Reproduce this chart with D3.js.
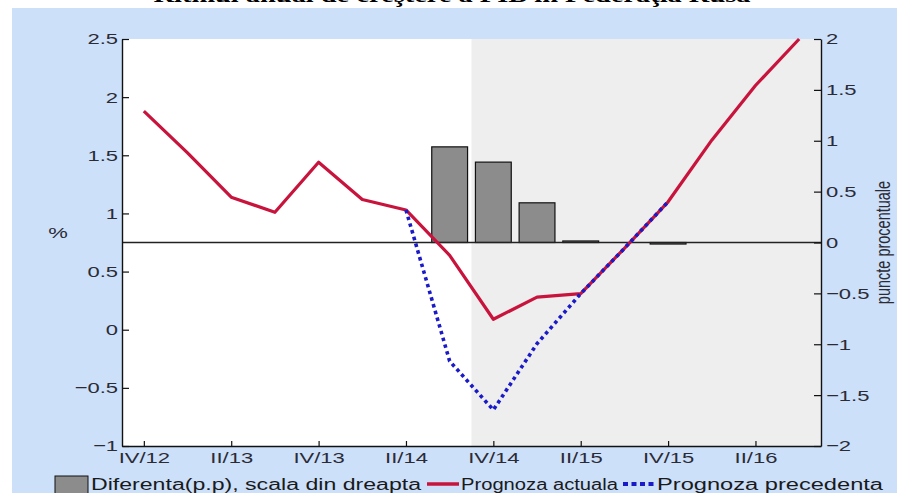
<!DOCTYPE html>
<html>
<head>
<meta charset="utf-8">
<script src="https://cdn.jsdelivr.net/npm/d3@7"></script>
<style>
  html, body { margin: 0; padding: 0; background: #fff; }
  svg { display: block; }
  text { font-family: "Liberation Sans", Arial, sans-serif; }
</style>
</head>
<body>
<svg width="897" height="493"></svg>
<script>
// quarters on the x axis
const quarters = ['IV/12', 'I/13', 'II/13', 'III/13', 'IV/13', 'I/14', 'II/14', 'III/14',
  'IV/14', 'I/15', 'II/15', 'III/15', 'IV/15', 'I/16', 'II/16', 'III/16']
const tickQuarters = ['IV/12', 'II/13', 'IV/13', 'II/14', 'IV/14', 'II/15', 'IV/15', 'II/16']
const forecastStart = 'IV/14'

// annual GDP growth, % (left scale)
const actual = [1.88, 1.52, 1.14, 1.01, 1.44, 1.12, 1.03, 0.64, 0.09, 0.28, 0.31, 0.70, 1.10, 1.63, 2.10, 2.50]
const previous = [null, null, null, null, null, null, 1.03, -0.27, -0.69, -0.12, 0.31, 0.70, 1.10, null, null, null]
// difference, p.p. (right scale)
const diff = [null, null, null, null, null, null, null, 0.94, 0.79, 0.39, 0.015, 0, -0.015, null, null, null]

const leftTicks = [-1, -0.5, 0, 0.5, 1, 1.5, 2, 2.5]
const rightTicks = [-2, -1.5, -1, -0.5, 0, 0.5, 1, 1.5, 2]

const title = 'Ritmul anual de creştere a PIB în Federaţia Rusă'
const legendLabels = ['Diferenta(p.p), scala din dreapta', 'Prognoza actuala', 'Prognoza precedenta']

const svg = d3.select('svg')
const stretchX = 1.42
const red = '#c8143c', blue = '#1a1ac8'

const pLeft = 122, pRight = 821, pTop = 39, pBottom = 446

// stretch texts horizontally like the (widened) original
const stretch = (sel, k = stretchX) => sel.each(function () {
  const w = this.getComputedTextLength()
  this.setAttribute('textLength', w * k)
  this.setAttribute('lengthAdjust', 'spacingAndGlyphs')
})

// backgrounds
svg.append('rect').attr('x', 12).attr('y', 8).attr('width', 885).attr('height', 485).attr('fill', '#cde0fa')

const x = d3.scaleLinear().domain([-0.5, quarters.length - 0.5]).range([pLeft, pRight])
const yL = d3.scaleLinear().domain([-1, 2.5]).range([pBottom, pTop])
const yR = d3.scaleLinear().domain([-2, 2]).range([pBottom, pTop])
const xi = q => quarters.indexOf(q)

svg.append('rect').attr('x', pLeft).attr('y', pTop)
  .attr('width', pRight - pLeft).attr('height', pBottom - pTop).attr('fill', '#ffffff')
svg.append('rect').attr('x', x(xi(forecastStart) - 0.5)).attr('y', pTop)
  .attr('width', pRight - x(xi(forecastStart) - 0.5)).attr('height', pBottom - pTop).attr('fill', '#eeeeee')

// bars
const step = x(1) - x(0), barW = step * 0.82
svg.append('g').selectAll('rect')
  .data(diff.map((v, i) => ({ v, i })).filter(d => d.v !== null && d.v !== 0))
  .enter().append('rect')
  .attr('x', d => x(d.i) - barW / 2)
  .attr('y', d => Math.min(yR(d.v), yR(0)))
  .attr('width', barW)
  .attr('height', d => Math.max(Math.abs(yR(d.v) - yR(0)), 1))
  .attr('fill', '#8c8c8c')
  .attr('stroke', '#111')
  .attr('stroke-width', 1.2)

// zero line of the right scale
svg.append('line').attr('x1', pLeft).attr('x2', pRight)
  .attr('y1', yR(0)).attr('y2', yR(0))
  .attr('stroke', '#222').attr('stroke-width', 1.3)

// lines
const line = d3.line()
  .defined(d => d.v !== null)
  .x(d => x(d.i))
  .y(d => yL(d.v))

svg.append('path')
  .datum(actual.map((v, i) => ({ v, i })))
  .attr('d', line)
  .attr('fill', 'none').attr('stroke', red).attr('stroke-width', 3.2)
  .attr('stroke-linejoin', 'round')

svg.append('path')
  .datum(previous.map((v, i) => ({ v, i })))
  .attr('d', line)
  .attr('fill', 'none').attr('stroke', blue).attr('stroke-width', 3.6)
  .attr('stroke-dasharray', '3.5,3.5')

// axes
const fmt = d3.format('~g')
const axisText = g => g.selectAll('text')
  .attr('fill', '#2b2b35').style('font-size', '15.5px')

const gl = svg.append('g').attr('transform', `translate(${pLeft},0)`)
  .call(d3.axisLeft(yL).tickValues(leftTicks).tickFormat(fmt)
    .tickSizeInner(-7).tickSizeOuter(0).tickPadding(4))
const gr = svg.append('g').attr('transform', `translate(${pRight},0)`)
  .call(d3.axisRight(yR).tickValues(rightTicks).tickFormat(fmt)
    .tickSizeInner(-7).tickSizeOuter(0).tickPadding(5))
const gb = svg.append('g').attr('transform', `translate(0,${pBottom})`)
  .call(d3.axisBottom(x).tickValues(tickQuarters.map(xi)).tickFormat(i => quarters[i])
    .tickSizeInner(-5).tickSizeOuter(0).tickPadding(6))

;[gl, gr, gb].forEach(g => {
  g.call(axisText)
  g.select('.domain').attr('stroke', '#111').attr('stroke-width', 1.4)
  g.selectAll('.tick line').attr('stroke', '#111').attr('stroke-width', 1.2)
  g.attr('font-family', null)
  stretch(g.selectAll('text'))
})

// axis titles
stretch(svg.append('text').text('%')
  .attr('x', 58).attr('y', 238).attr('text-anchor', 'middle')
  .attr('fill', '#2b2b35').style('font-size', '15.5px'))

svg.append('text').text('puncte procentuale')
  .attr('transform', `translate(890,${yR(0)}) scale(${stretchX},1) rotate(-90)`)
  .attr('text-anchor', 'middle')
  .attr('fill', '#2b2b35').style('font-size', '14.5px')

// title, mostly cut off at the top
stretch(svg.append('text').text(title)
  .attr('x', 452).attr('y', 2).attr('text-anchor', 'middle')
  .style('font-family', '"Liberation Serif", "Times New Roman", serif')
  .style('font-weight', 'bold').style('font-size', '20px').attr('fill', '#000'))

// legend
const ly = 490
const legendText = (t, x0, w) => legend.append('text').text(t)
  .attr('x', x0).attr('y', ly)
  .attr('textLength', w).attr('lengthAdjust', 'spacingAndGlyphs')
  .attr('fill', '#1a1a1a').style('font-size', '16px')
const legend = svg.append('g')
legend.append('rect').attr('x', 55).attr('y', 476).attr('width', 33).attr('height', 20)
  .attr('fill', '#8c8c8c').attr('stroke', '#111').attr('stroke-width', 1)
legendText(legendLabels[0], 91, 330)
legend.append('line').attr('x1', 427).attr('x2', 459).attr('y1', 484).attr('y2', 484)
  .attr('stroke', red).attr('stroke-width', 3.5)
legendText(legendLabels[1], 461, 157)
legend.append('line').attr('x1', 623).attr('x2', 655).attr('y1', 484).attr('y2', 484)
  .attr('stroke', blue).attr('stroke-width', 4).attr('stroke-dasharray', '5,3.5')
legendText(legendLabels[2], 657, 226)
</script>
</body>
</html>
